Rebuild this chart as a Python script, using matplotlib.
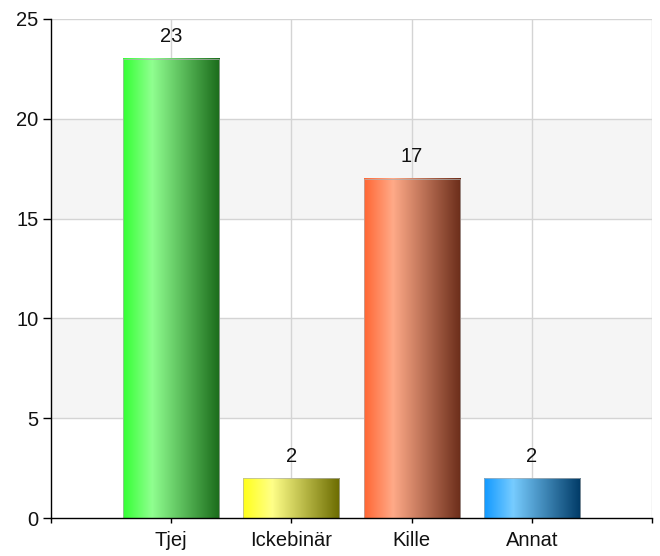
import numpy as np
import matplotlib
matplotlib.use("Agg")
import matplotlib.pyplot as plt
from matplotlib.colors import LinearSegmentedColormap
from matplotlib.patches import Rectangle

categories = ["Tjej", "Ickebinär", "Kille", "Annat"]
values = [23, 2, 17, 2]
y_ticks = [0, 5, 10, 15, 20, 25]

# gradient colour stops per bar: (left, highlight, right)
bar_gradients = [
    ("#33ff33", "#90ff90", "#1a6b1a"),
    ("#ffff1a", "#ffff88", "#6b6b00"),
    ("#ff6633", "#ffaa88", "#6b2d1a"),
    ("#1199ff", "#77ccff", "#003a66"),
]

plt.rcParams['font.family'] = ['Liberation Sans', 'DejaVu Sans']

fig = plt.figure(figsize=(6.6, 5.56), dpi=100)
ax = fig.add_axes([51/660, 38/556, (652-51)/660, (518-19)/556])

n = len(categories)
ax.set_xlim(0, n + 1)
ax.set_ylim(0, 25)

# alternating bands
for i in range(len(y_ticks) - 1):
    if i % 2 == 1:
        ax.axhspan(y_ticks[i], y_ticks[i+1], color="#f5f5f5", zorder=0, lw=0)

# grid
for y in y_ticks[1:]:
    ax.axhline(y, color="#d4d4d4", lw=1, zorder=1)
for x in list(range(1, n + 1)) + [n + 1]:
    ax.axvline(x, color="#d4d4d4", lw=1, zorder=1)

width = 0.8
grad = np.linspace(0, 1, 256).reshape(1, -1)
for i, (cat, v) in enumerate(zip(categories, values)):
    xc = i + 1
    c0, c1, c2 = bar_gradients[i]
    cmap = LinearSegmentedColormap.from_list(f"g{i}", [(0, c0), (0.3, c1), (1.0, c2)])
    x0 = xc - width / 2
    ax.imshow(grad, cmap=cmap, extent=[x0, x0 + width, 0, v], aspect='auto',
              zorder=2, interpolation='bilinear')
    ax.add_patch(Rectangle((x0, 0), width, v, fill=False, edgecolor="#b0b0b0",
                           lw=0.5, zorder=3))
    ax.annotate(str(v), (xc, v), xytext=(0, 9), textcoords="offset points",
                ha="center", va="bottom", fontsize=14.5, color="#111111", zorder=4)

ax.set_xlim(0, n + 1)
ax.set_ylim(0, 25)
ax.set_xticks(range(0, n + 2))
ax.set_xticklabels([""] + categories + [""])
ax.set_yticks(y_ticks)
ax.tick_params(axis='both', direction='out', width=1, color="black",
               labelsize=14.5, labelcolor="#111111")
ax.tick_params(axis='x', length=3.8, pad=5.5)
ax.tick_params(axis='y', length=5.5, pad=3.5)

for s in ["top", "right"]:
    ax.spines[s].set_visible(False)
for s in ["left", "bottom"]:
    ax.spines[s].set_color("black")
    ax.spines[s].set_linewidth(1)
    ax.spines[s].set_zorder(5)

fig.savefig("out.png", dpi=100)
